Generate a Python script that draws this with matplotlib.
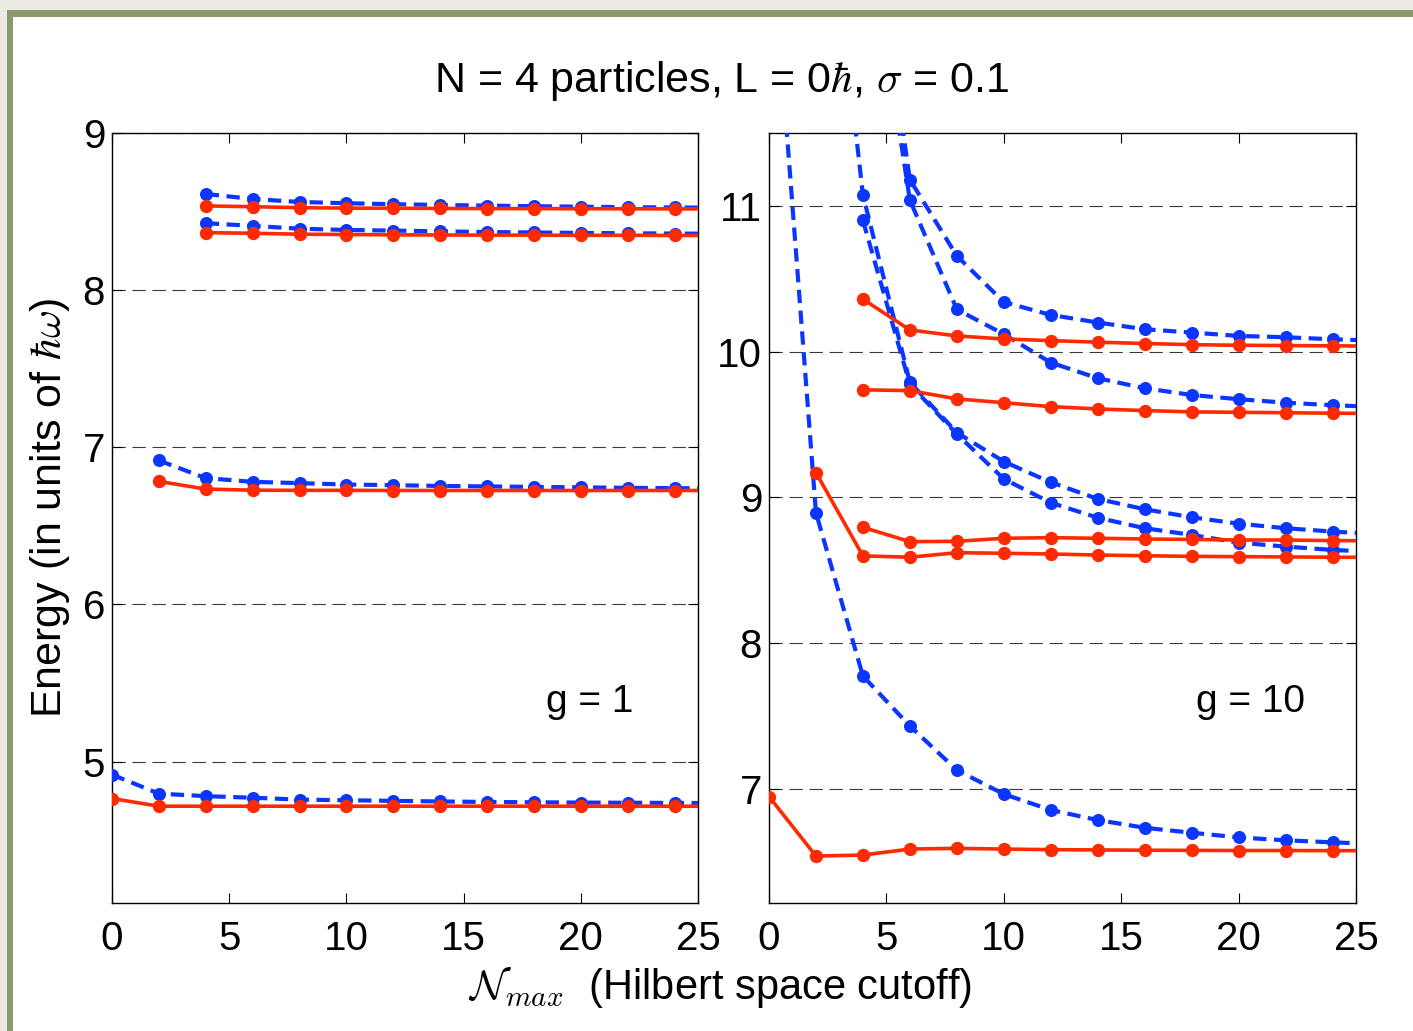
import matplotlib
matplotlib.use('Agg')
import matplotlib.pyplot as plt
from matplotlib.patches import Rectangle

plt.rcParams['font.family'] = ['Liberation Sans', 'DejaVu Sans']
plt.rcParams['mathtext.fontset'] = 'cm'

# ---------------- data: left panel (g = 1) ----------------
g1_x_top = [4, 6, 8, 10, 12, 14, 16, 18, 20, 22, 24, 26]
g1_top1_blue = [8.612, 8.580, 8.561, 8.553, 8.547, 8.542, 8.538, 8.534, 8.531, 8.528, 8.526, 8.525]
g1_top1_red = [8.536, 8.531, 8.525, 8.522, 8.521, 8.520, 8.519, 8.519, 8.518, 8.518, 8.517, 8.517]
g1_top2_blue = [8.426, 8.409, 8.391, 8.383, 8.379, 8.374, 8.370, 8.367, 8.364, 8.362, 8.360, 8.359]
g1_top2_red = [8.366, 8.362, 8.356, 8.354, 8.352, 8.351, 8.350, 8.350, 8.349, 8.349, 8.348, 8.348]

g1_x_mid = [2, 4, 6, 8, 10, 12, 14, 16, 18, 20, 22, 24, 26]
g1_mid_blue = [6.916, 6.804, 6.780, 6.772, 6.763, 6.759, 6.754, 6.751, 6.748, 6.745, 6.742, 6.740, 6.738]
g1_mid_red = [6.783, 6.734, 6.727, 6.726, 6.726, 6.725, 6.725, 6.725, 6.725, 6.725, 6.725, 6.725, 6.725]

g1_x_low = [0, 2, 4, 6, 8, 10, 12, 14, 16, 18, 20, 22, 24, 26]
g1_low_blue = [4.917, 4.796, 4.780, 4.770, 4.758, 4.754, 4.750, 4.746, 4.743, 4.741, 4.739, 4.738, 4.737, 4.736]
g1_low_red = [4.765, 4.716, 4.716, 4.716, 4.716, 4.716, 4.716, 4.716, 4.716, 4.716, 4.716, 4.716, 4.716, 4.716]

# ---------------- data: right panel (g = 10) ----------------
g10_x_a = [0, 2, 4, 6, 8, 10, 12, 14, 16, 18, 20, 22, 24, 26]
g10_a_blue = [13.10, 8.895, 7.775, 7.432, 7.130, 6.965, 6.856, 6.787, 6.734, 6.700, 6.668, 6.648, 6.634, 6.622]
g10_a_red = [6.948, 6.540, 6.547, 6.588, 6.593, 6.588, 6.584, 6.582, 6.580, 6.579, 6.578, 6.578, 6.577, 6.577]

g10_x_b = [2, 4, 6, 8, 10, 12, 14, 16, 18, 20, 22, 24, 26]
g10_b_blue = [13.93, 11.075, 9.790, 9.445, 9.246, 9.104, 8.990, 8.919, 8.864, 8.820, 8.789, 8.766, 8.748]
g10_b_red = [9.170, 8.599, 8.590, 8.621, 8.617, 8.612, 8.605, 8.600, 8.596, 8.594, 8.592, 8.590, 8.589]

g10_x_c = [4, 6, 8, 10, 12, 14, 16, 18, 20, 22, 24, 26]
g10_c_blue = [10.900, 9.775, 9.435, 9.127, 8.964, 8.861, 8.789, 8.743, 8.690, 8.663, 8.640, 8.625]
g10_c_red = [8.795, 8.697, 8.699, 8.720, 8.724, 8.720, 8.715, 8.712, 8.708, 8.708, 8.704, 8.702]
g10_d_blue = [13.44, 11.180, 10.657, 10.340, 10.252, 10.200, 10.154, 10.131, 10.108, 10.099, 10.085, 10.075]
g10_d_red = [10.360, 10.149, 10.108, 10.087, 10.076, 10.065, 10.056, 10.048, 10.044, 10.042, 10.040, 10.038]
g10_e_blue = [13.14, 11.040, 10.290, 10.120, 9.925, 9.818, 9.749, 9.703, 9.674, 9.650, 9.633, 9.620]
g10_e_red = [9.738, 9.733, 9.676, 9.650, 9.623, 9.607, 9.596, 9.587, 9.584, 9.581, 9.578, 9.576]

xticks = [0, 5, 10, 15, 20, 25]
g1_yticks = [5, 6, 7, 8, 9]
g10_yticks = [7, 8, 9, 10, 11]

RED = '#ff2a00'
BLUE = '#0a36ff'

W, H = 1413, 1031
fig = plt.figure(figsize=(W / 100, H / 100), dpi=100)
fig.patch.set_facecolor('white')

# slide frame
for (x0, y0, w, h, c) in [
    (0, H - 10, W, 10, '#ebeae3'),
    (0, 0, 7, H, '#ebeae3'),
    (7, H - 17, W - 7, 7, '#8b9a6b'),
    (7, 0, 6, H - 10, '#8b9a6b'),
]:
    fig.patches.append(Rectangle((x0 / W, y0 / H), w / W, h / H, transform=fig.transFigure,
                                 figure=fig, facecolor=c, edgecolor='none', zorder=0))

ax1 = fig.add_axes([112 / W, 128 / H, 586 / W, 770 / H])
ax2 = fig.add_axes([769 / W, 128 / H, 587 / W, 770 / H])


def blue(ax, x, y):
    ax.plot(x, y, color=BLUE, lw=3.0, dashes=(3.2, 1.8), marker='o', ms=9.4,
            markeredgewidth=0, zorder=3)


def red(ax, x, y):
    ax.plot(x, y, color=RED, lw=2.6, marker='o', ms=9.6, markeredgewidth=0, zorder=4)


blue(ax1, g1_x_top, g1_top1_blue)
blue(ax1, g1_x_top, g1_top2_blue)
blue(ax1, g1_x_mid, g1_mid_blue)
blue(ax1, g1_x_low, g1_low_blue)
red(ax1, g1_x_top, g1_top1_red)
red(ax1, g1_x_top, g1_top2_red)
red(ax1, g1_x_mid, g1_mid_red)
red(ax1, g1_x_low, g1_low_red)

blue(ax2, g10_x_a, g10_a_blue)
blue(ax2, g10_x_b, g10_b_blue)
blue(ax2, g10_x_c, g10_c_blue)
blue(ax2, g10_x_c, g10_d_blue)
blue(ax2, g10_x_c, g10_e_blue)
red(ax2, g10_x_a, g10_a_red)
red(ax2, g10_x_b, g10_b_red)
red(ax2, g10_x_c, g10_c_red)
red(ax2, g10_x_c, g10_d_red)
red(ax2, g10_x_c, g10_e_red)

ax1.set_ylim(4.1, 9)
ax2.set_ylim(6.218, 11.5)
for ax, yt in [(ax1, g1_yticks), (ax2, g10_yticks)]:
    ax.set_xlim(0, 25)
    ax.set_xticks(xticks)
    ax.set_yticks(yt)
    ax.tick_params(direction='in', length=7.5, width=0.8, top=True, right=True,
                   labelsize=29, colors='black')
    ax.tick_params(axis='x', pad=12)
    ax.tick_params(axis='y', pad=5)
    ax.yaxis.grid(True, linestyle=(0, (12, 6)), linewidth=0.8, color='#3a3a3a', zorder=1)
    ax.set_axisbelow(True)
    for s in ax.spines.values():
        s.set_linewidth(1.0)

ax1.text(20.4, 5.38, 'g = 1', fontsize=28, ha='center', va='center')
ax2.text(20.5, 7.6, 'g = 10', fontsize=28, ha='center', va='center')

fig.text(722 / W, 1 - 81 / H, r'N = 4 particles, L = 0$\hbar$, $\sigma$ = 0.1',
         fontsize=31, ha='center', va='center')
fig.text(50 / W, 1 - 508 / H, r'Energy (in units of $\hbar\omega$)', rotation=90,
         fontsize=31, ha='center', va='center')
fig.text(720 / W, 1 - 988 / H, r'$\mathcal{N}_{max}$  (Hilbert space cutoff)',
         fontsize=30, ha='center', va='center')

fig.savefig('out.png', dpi=100)
